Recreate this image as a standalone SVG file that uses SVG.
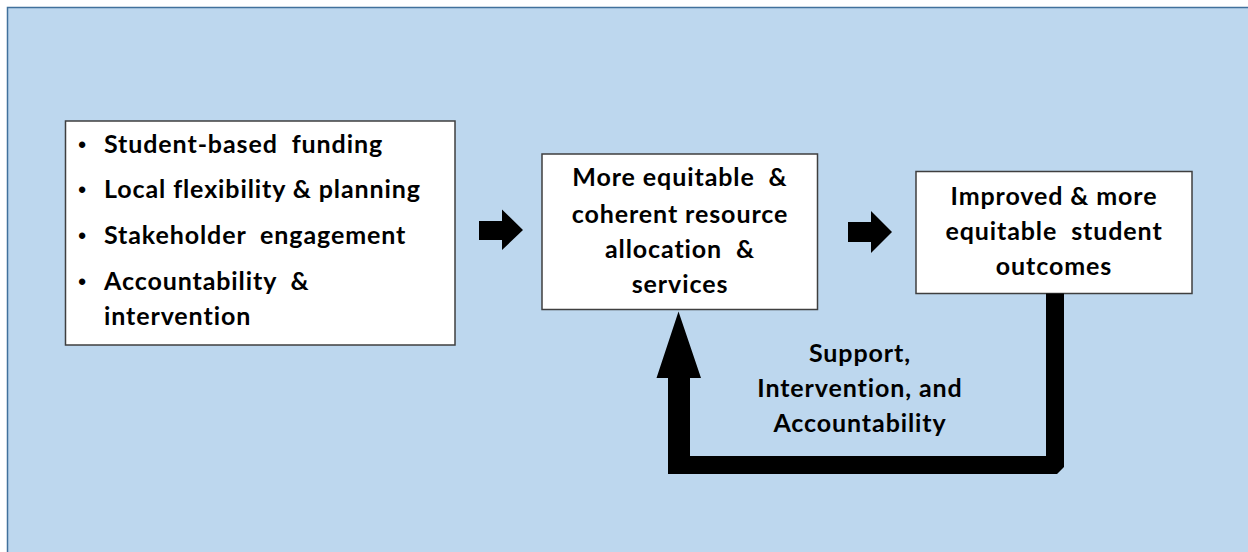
<svg xmlns="http://www.w3.org/2000/svg" width="1248" height="552" viewBox="0 0 1248 552">
<style>
.box{fill:#ffffff;stroke:#3f3f3f;stroke-width:1.5}
.t{font-family:Lato,"Liberation Sans",sans-serif;font-weight:bold;font-size:25px;letter-spacing:0.9px;fill:#000;white-space:pre}
.b{font-family:"Liberation Sans",sans-serif;font-weight:bold;font-size:22px;fill:#000;text-anchor:middle}
.c{text-anchor:middle}
.arrow{fill:#000}
</style>
<rect x="7.5" y="7.5" width="1260" height="560" fill="#BDD7EE" stroke="#41719C" stroke-width="1.5"/>
<g id="inputs">
<rect class="box" x="65.5" y="121" width="389.5" height="224"/>
<text class="b" x="82" y="152">•</text>
<text class="t" x="104" y="153" xml:space="preserve">Student-based  funding</text>
<text class="b" x="82" y="197">•</text>
<text class="t" x="104" y="198">Local flexibility &amp; planning</text>
<text class="b" x="82" y="243">•</text>
<text class="t" x="104" y="244" xml:space="preserve">Stakeholder  engagement</text>
<text class="b" x="82" y="289">•</text>
<text class="t" x="104" y="290" xml:space="preserve">Accountability  &amp;</text>
<text class="t" x="104" y="325">intervention</text>
</g>
<g id="resources">
<rect class="box" x="542" y="154" width="275.5" height="155.5"/>
<text class="t c" x="680" y="186" xml:space="preserve">More equitable  &amp;</text>
<text class="t c" x="680" y="222.5">coherent resource</text>
<text class="t c" x="680" y="258" xml:space="preserve">allocation  &amp;</text>
<text class="t c" x="680" y="293">services</text>
</g>
<g id="outcomes">
<rect class="box" x="916" y="171.5" width="276" height="122"/>
<text class="t c" x="1054" y="205">Improved &amp; more</text>
<text class="t c" x="1054" y="240" xml:space="preserve">equitable  student</text>
<text class="t c" x="1054" y="275">outcomes</text>
</g>
<g id="connectors">
<polygon class="arrow" points="479,221 502,221 502,209.5 523,230 502,250 502,240 479,240"/>
<polygon class="arrow" points="848,222 871,222 871,211 892,232 871,253 871,242 848,242"/>
<polygon class="arrow" points="1046,293.5 1064,293.5 1064,467 1057,474 668,474 668,378 656.5,378 678.5,311.5 701,378 690,378 690,456 1046,456"/>
<text class="t c" x="860" y="361.5">Support,</text>
<text class="t c" x="860" y="396.5">Intervention, and</text>
<text class="t c" x="860" y="431.5">Accountability</text>
</g>
</svg>
